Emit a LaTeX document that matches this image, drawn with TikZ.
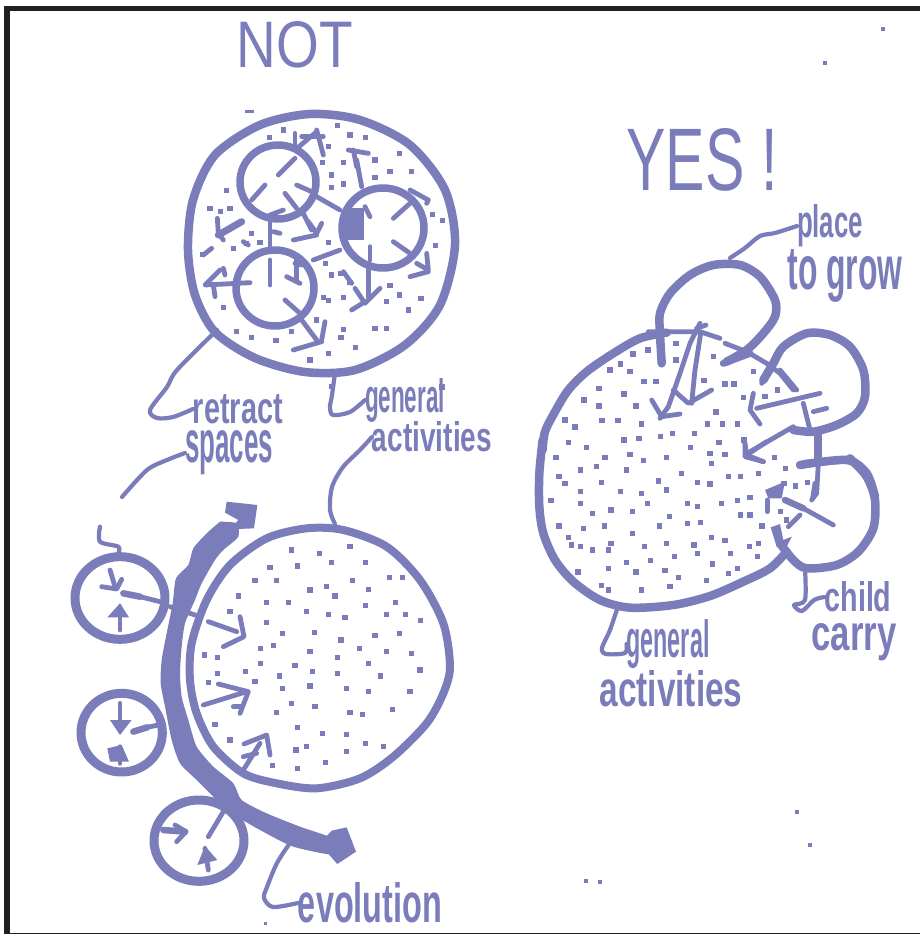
\documentclass[tikz,border=0pt]{standalone}
\usepackage{graphicx}
\usepackage{fontspec}
\setmainfont{Liberation Sans}
\definecolor{ink}{HTML}{7B7DBB}
\definecolor{frame}{HTML}{231F20}
\tikzset{
  sk/.style={draw=ink,line width=4.8pt,line cap=round,line join=round},
  lead/.style={draw=ink,line width=4.2pt,line cap=round,line join=round},
  hand/.style={text=ink,inner sep=0pt,outer sep=0pt},
  inz/.style={shift={#1},scale=1/3}
}
% name, centre x, centre y, width, height, text
\newcommand{\handb}[6]{\node[hand] (#1) at (#2,#3) {\resizebox{#4pt}{#5pt}{\bfseries #6}};}
\newcommand{\handr}[6]{\node[hand] (#1) at (#2,#3) {\resizebox{#4pt}{#5pt}{#6}};}
\newcommand{\specks}[1]{\foreach \px/\py in {#1} {\fill[ink] (\px-8,\py-8) rectangle (\px+8,\py+8);}}
\begin{document}
\begin{tikzpicture}[x=1pt,y=-1pt]
\useasboundingbox (0,0) rectangle (920,934);
\fill[white] (0,0) rectangle (920,934);
% frame
\fill[frame] (4,6) rectangle (920,11.5);
\fill[frame] (4,6) rectangle (9.5,934);
\fill[frame] (4,932.5) rectangle (920,934);
% titles
\handr{tnot}{295}{45}{116}{46}{NOT}
\handr{tyes}{702}{160}{151}{62}{YES !}
% labels
\handb{retract}{238}{409}{90}{29}{retract}
\handb{spaces}{229}{453}{88}{32}{spaces}
\handb{gentop}{405}{400}{80}{34}{general}
\handb{acttop}{432}{437}{120}{30}{activities}
\handb{place}{830}{226}{66}{33}{place}
\handb{togrow}{845}{276}{115}{40}{to grow}
\handb{child}{858}{597}{67}{30}{child}
\handb{carry}{854}{642}{85}{27}{carry}
\handb{genright}{668}{644}{83}{38}{general}
\handb{actright}{671}{689}{143}{36}{activities}
\handb{evol}{370}{903}{144}{40}{evolution}
% ---------- upper circle
\draw[sk,line width=8.5pt] plot[smooth cycle] coordinates {(455,245) (445,190) (410,145) (360,120) (310,114) (260,125) (215,155) (193,200) (188,250) (195,295) (215,332) (255,358) (305,372) (355,370) (405,345) (440,305)};
\draw[sk,line width=7.5pt] (278,182) circle[x radius=38,y radius=37];
\draw[sk,line width=7.5pt] (383,228) circle[x radius=41,y radius=40];
\draw[sk,line width=7.5pt] (275,288) circle[x radius=39,y radius=38];
\fill[ink] (344,208) rectangle (364,240);
\begin{scope}[inz={(180,100)}]
\specks{268/113,510/105,557/113,585/180,658/160,585/233,630/215,695/215,140/272,122/335,150/325,90/325,215/400,160/445,68/463,445/140,428/187,490/187,455/225,455/262,490/252,445/428,437/490,455/525,483/520,510/548,630/557,658/585,723/595,620/605,685/630,430/593,445/602,490/593,130/622,410/660,585/686,620/686,483/713,527/742,445/760,390/780,288/722,215/713,335/695,490/688,170/695,758/343,787/362,767/437,455/860,473/77,200/430,240/428,310/90}
\draw[sk] (345,175)--(295,225);
\draw[sk] (255,255)--(215,300);
\draw[sk] (315,280)--(350,325);
\draw[sk] (350,255)--(395,275);
\draw[sk] (345,150)--(410,95);
\draw[sk] (365,110)--(430,110);
\draw[sk] (410,90)--(430,165);
\draw[sk] (345,100)--(345,140);
\draw[sk] (270,365)--(270,440);
\draw[sk] (270,480)--(270,555);
\draw[sk,line width=7pt] (185,365)--(115,405);
\draw[sk] (112,355)--(115,400)--(130,420);
\draw[sk] (340,420)--(410,405);
\draw[sk] (385,365)--(410,400)--(425,370);
\draw[sk] (370,340)--(395,390);
\draw[sk] (530,180)--(545,260);
\draw[sk] (505,150)--(565,160);
\draw[sk] (520,150)--(530,200);
\draw[sk] (690,310)--(640,355);
\draw[sk] (690,270)--(745,300)--(740,310);
\draw[sk] (570,440)--(570,480);
\draw[sk] (565,510)--(565,590);
\draw[sk] (525,565)--(555,610)--(600,565);
\draw[sk] (515,630)--(555,605);
\draw[sk] (490,515)--(515,550);
\draw[sk] (640,425)--(690,460);
\draw[sk] (710,490)--(745,510)--(740,460);
\draw[sk] (690,530)--(745,515);
\draw[sk] (120,510)--(75,555)--(210,548);
\draw[sk] (100,555)--(105,590);
\draw[sk] (130,505)--(135,525);
\draw[sk] (350,480)--(350,540);
\draw[sk] (320,530)--(360,550);
\draw[sk] (345,490)--(365,495);
\draw[sk] (315,600)--(360,640);
\draw[sk] (365,660)--(410,720);
\draw[sk] (435,665)--(425,720);
\draw[sk] (340,750)--(425,725);
\draw[sk] (555,320)--(570,350);
\draw[sk] (280,395)--(300,400);
\draw[sk] (70,465)--(95,445);
\draw[sk] (190,425)--(205,435);
\draw[sk] (410,290)--(480,330);
\draw[sk] (270,345)--(310,330);
\draw[sk] (400,480)--(480,450);
\end{scope}
\fill[ink] (439,384) rectangle (445,390);
\fill[ink] (245,110) rectangle (254,113);
% leaders upper circle
\coordinate (upl) at (217,330);
\coordinate (upb) at (335,373);
\draw[lead] plot[smooth] coordinates {(upl) (177,370) (167,387) (150,410) (157,418) (173,417) (retract.west)};
\draw[lead] plot[smooth] coordinates {(upb) (332,395) (330,407) (333,415) (350,412) (gentop.west)};
\coordinate (spfree) at (122,497);
\draw[lead] plot[smooth] coordinates {(spaces.west) (167,460) (147,470) (spfree)};
% ---------- lower big circle
\begin{scope}[inz={(60,490)}]
\draw[sk,line width=8pt] plot[smooth cycle] coordinates {(1170,530) (1150,400) (1080,270) (980,170) (850,120) (740,115) (620,145) (510,225) (440,330) (395,460) (390,570) (410,670) (460,770) (550,850) (650,880) (770,895) (900,865) (1000,800) (1100,700) (1150,610)};
\specks{695/180,778/190,870/170,713/228,815/218,917/218,630/233,585/272,650/272,878/272,988/263,1027/263,750/300,800/290,825/318,925/298,535/318,620/338,686/338,740/365,806/374,1007/338,917/347,510/365,980/374,1037/374,1082/392,855/383,620/397,668/430,763/428,843/450,945/437,1018/430,640/467,602/476,898/476,750/485,980/485,1055/490,433/495,473/503,833/503,602/520,705/526,926/521,473/550,557/545,658/558,758/545,833/550,962/558,1080/540,446/578,585/575,750/588,668/596,860/596,926/605,1050/605,695/641,765/650,650/668,870/668,907/673,998/659,465/703,713/712,788/731,860/734,510/750,708/780,740/770,917/761,970/770,860/785,638/827,713/836,797/818}
% thick band with arrow heads
\fill[ink] plot[smooth,tension=0.4] coordinates {(480,95) (440,130) (400,175) (385,225) (348,265) (338,340) (320,430) (305,510) (302,580) (315,650) (335,750) (360,820) (410,870) (460,920) (490,950) (540,985) (600,1020) (700,1070) (830,1095) (830,1050) (720,1010) (620,970) (545,930) (520,880) (460,830) (410,770) (385,690) (365,620) (360,550) (365,470) (375,400) (405,330) (425,280) (465,210) (490,180) (535,140) (530,100) (480,95)} -- cycle;
\fill[ink] (500,35)--(592,45)--(582,115)--(510,118)--(535,90)--(495,68)--cycle;
\fill[ink] (815,1022)--(860,1012)--(888,1085)--(832,1122)--(808,1095)--(780,1060)--cycle;
% small circles
\draw[sk] (330,350)--(405,375);
\draw[sk,line width=9pt] (180,324) ellipse[x radius=135,y radius=124];
\draw[sk,line width=9pt] (185,728) ellipse[x radius=122,y radius=118];
\draw[sk,line width=9pt] (417,1052) ellipse[x radius=135,y radius=122];
% L1 arrows
\draw[lead] plot[smooth] coordinates {(120,110) (120,155) (175,170) (175,190)};
\draw[sk] (150,240)--(165,290);
\draw[sk] (125,290)--(170,297)--(185,268);
\draw[sk,line width=6.5pt] (190,310)--(240,320);
\draw[sk] (240,320)--(300,335);
\draw[sk] (180,420)--(180,350);
\fill[ink] (142,382)--(180,340)--(207,382)--cycle;
% L2 arrows
\draw[sk] (180,640)--(180,720);
\fill[ink] (150,690)--(215,690)--(180,735)--cycle;
\draw[sk,line width=6.5pt] (220,725)--(262,712);
\draw[sk] (262,712)--(295,705);
\fill[ink] (142,775)--(185,765)--(207,815)--(150,815)--cycle;
\draw[sk] (180,820)--(180,770);
% L3 arrows
\draw[sk] (490,965)--(445,1040);
\draw[sk,line width=6.5pt] (310,1020)--(375,1025);
\draw[sk] (345,1005)--(378,1025)--(350,1055);
\draw[sk] (445,1140)--(435,1075);
\fill[ink] (412,1125)--(435,1068)--(472,1110)--cycle;
% arrows into big circle
\draw[sk] (445,395)--(530,425);
\draw[sk] (540,380)--(552,440)--(490,470);
\draw[sk] (430,645)--(560,605);
\draw[sk] (475,582)--(565,605)--(540,670);
\draw[sk] (520,650)--(545,650);
\draw[sk] (550,840)--(600,760);
\draw[sk] (552,762)--(620,735)--(630,795);
\draw[sk] (550,800)--(590,790);
\end{scope}
\coordinate (bigtop) at (335,524);
\draw[lead] plot[smooth] coordinates {(bigtop) (330,510) (332,487) (343,467) (360,450) (acttop.west)};
\coordinate (evoband) at (290,843);
\draw[lead] plot[smooth] coordinates {(evoband) (277,863) (267,887) (264,898) (273,907) (evol.west)};
\fill[ink] (263.5,922) rectangle (266.5,925);
% ---------- right group: main outline
\begin{scope}[inz={(580,200)}]
\draw[sk,line width=8.5pt] plot[smooth] coordinates {(245,490) (240,400) (240,340) (270,280) (330,225) (400,195) (480,195) (540,230) (585,300) (585,350) (550,400) (500,450) (440,485)};
\draw[sk,line width=8.5pt] plot[smooth] coordinates {(550,540) (580,490) (610,440) (680,400) (750,405) (810,440) (850,510) (855,590) (830,640) (770,675) (700,695) (640,690)};
\draw[sk,line width=8pt] (715,700)--(715,790);
\draw[sk,line width=8.5pt] plot[smooth] coordinates {(660,795) (800,780) (860,820) (885,890)};
\draw[sk] (205,395)--(360,395)--(420,415);
\draw[sk] (435,430)--(500,455)--(560,490)--(600,520)--(640,570);
\draw[sk,line width=7pt] (430,490)--(510,460);
\draw[sk] (715,790)--(710,880)--(695,900);
\draw[sk] (545,550)--(565,515);
\draw[sk] (600,510)--(650,570);
% hollow-shaft arrow
\draw[sk] (360,370)--(330,430)--(300,520)--(265,620)--(240,655);
\draw[sk] (362,400)--(345,510)--(335,610);
\draw[sk] (215,600)--(245,650)--(300,642);
\draw[sk] (280,570)--(325,610)--(395,570);
\draw[sk] (350,385)--(378,375);
% arrow B, C and others
\draw[sk] (720,580)--(530,625);
\draw[sk] (520,580)--(510,630)--(540,672);
\draw[sk] (640,680)--(510,755);
\draw[sk] (495,730)--(495,770)--(550,785);
\draw[sk] (670,610)--(690,690);
\draw[sk] (700,635)--(740,625);
\specks{204/450,159/462,288/431,288/480,400/470,520/515,372/542,435/552,462/552,90/510,122/492,150/515,192/545,228/545,57/566,132/582,12/600,57/618,168/618,66/662,114/662,408/636,185/672,383/672,428/672,472/672,592/570,490/592,555/590,278/700,344/700,242/710,132/720,177/715,417/728,492/720}
\end{scope}
\begin{scope}[inz={(530,440)}]
\specks{78/53,170/22,225/53,300/44,410/53,482/22,540/40,567/8,585/44,340/62,545/70,733/53,767/85,152/90,200/80,290/90,455/100,595/110,632/110,686/100,87/110,105/130,215/128,385/123,503/128,540/132,152/155,272/155,335/160,410/150,762/130,797/138,833/128,63/182,152/190,353/190,473/190,503/200,575/190,622/182,660/173,188/220,243/210,308/215,418/230,632/225,660/225,752/215,770/240,87/258,160/266,224/258,388/258,473/250,512/248,696/258,308/280,115/293,545/293,585/302,124/315,243/310,152/320,188/330,235/330,344/320,410/311,492/315,658/320,686/311,503/340,602/340,682/349,434/350,362/362,290/368,548/372,622/386,235/385,318/396,144/396,405/391,595/400,446/413,530/422,215/436,235/450,335/450,420/440}
% big circle outline, left and bottom
\draw[sk,line width=8.5pt] plot[smooth] coordinates {(770,335) (720,385) (640,425) (540,468) (430,495) (300,503) (210,480) (130,425) (75,360) (40,280) (28,200) (28,100) (38,0)};
% third child circle
\draw[sk,line width=8.5pt] plot[smooth] coordinates {(960,55) (1010,110) (1035,180) (1030,265) (985,335) (920,375) (830,385) (790,360) (750,310)};
\draw[sk,line width=6.5pt] (765,180)--(820,205);
\draw[sk] (820,205)--(910,255);
\fill[ink] (705,150)--(765,125)--(755,175)--(715,175)--cycle;
\draw[sk] (712,180)--(712,215);
\fill[ink] (722,262)--(750,252)--(760,300)--(785,290)--(765,330)--(740,320)--cycle;
\draw[sk] (775,260)--(810,225);
\draw[sk] (855,130)--(848,175);
\draw[sk] (645,10)--(650,45)--(700,65);
\draw[sk] (650,45)--(710,5);
\draw[sk,line width=7pt] (825,70)--(950,60);
\draw[sk] (860,0)--(860,60);
\coordinate (bb) at (825,385);
\coordinate (bl) at (262,505);
\end{scope}
\begin{scope}[inz={(530,320)}]
\draw[sk,line width=8.5pt] plot[smooth] coordinates {(38,390) (45,335) (75,275) (115,210) (170,155) (250,100) (330,55) (410,38)};
\specks{105/300,135/321,115/368}
\end{scope}
% leaders right group
\coordinate (bub) at (730,258);
\draw[lead] plot[smooth] coordinates {(bub) (745,248) (760,236) (775,233) (place.west)};
\draw[lead] plot[smooth] coordinates {(bb) (805,600) (794,605) (802,611) (814,600) (child.west)};
\draw[lead] plot[smooth] coordinates {(bl) (610,630) (602,648) (606,654) (625,653) (genright.west)};
% stray specks
\fill[ink] (881,27) rectangle (885,31);
\fill[ink] (823,61) rectangle (827,65);
\fill[ink] (795,810) rectangle (799,814);
\fill[ink] (808,843) rectangle (812,847);
\fill[ink] (584,879) rectangle (588,883);
\fill[ink] (598,880) rectangle (602,884);
\end{tikzpicture}
\end{document}
